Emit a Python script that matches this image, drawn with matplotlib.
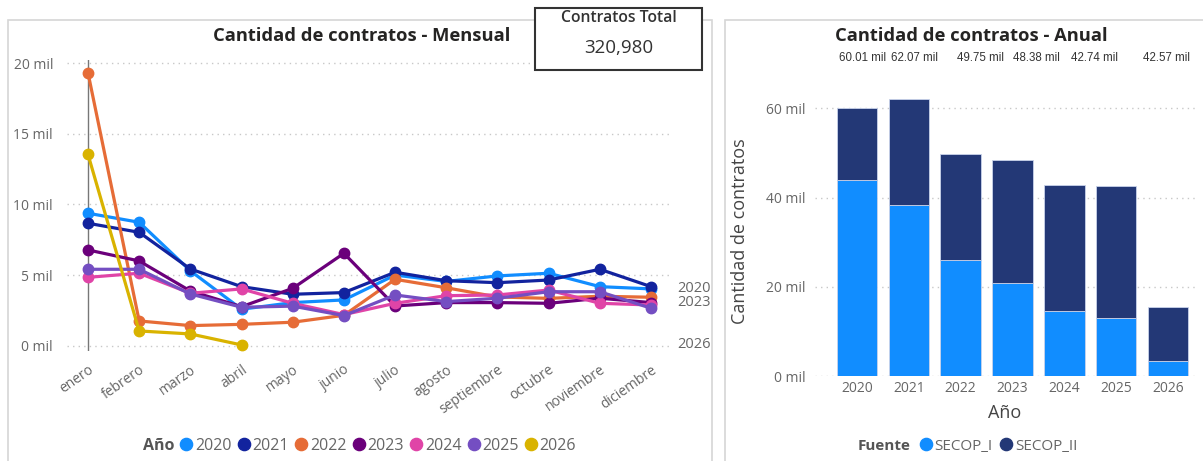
import matplotlib
matplotlib.use("Agg")
import matplotlib.pyplot as plt
import matplotlib.transforms as mtransforms
from matplotlib.patches import Rectangle
from matplotlib.lines import Line2D

plt.rcParams['font.family'] = ['Open Sans', 'DejaVu Sans']

# Monthly contracts (thousands) per year
meses = ['enero', 'febrero', 'marzo', 'abril', 'mayo', 'junio', 'julio',
         'agosto', 'septiembre', 'octubre', 'noviembre', 'diciembre']
m2020 = [9.38, 8.74, 5.30, 2.58, 3.05, 3.24, 5.00, 4.55, 4.94, 5.13, 4.18, 4.02]
m2021 = [8.67, 8.03, 5.43, 4.18, 3.64, 3.76, 5.20, 4.60, 4.46, 4.65, 5.41, 4.18]
m2022 = [19.33, 1.75, 1.42, 1.51, 1.66, 2.15, 4.70, 4.10, 3.45, 3.35, 3.50, 3.43]
m2023 = [6.78, 6.00, 3.87, 2.76, 4.06, 6.54, 2.81, 3.05, 3.05, 3.00, 3.36, 3.05]
m2024 = [4.84, 5.13, 3.71, 4.02, 3.00, 2.20, 3.00, 3.54, 3.59, 3.94, 3.00, 2.88]
m2025 = [5.41, 5.41, 3.66, 2.72, 2.80, 2.13, 3.59, 3.12, 3.36, 3.82, 3.82, 2.65]
m2026 = [13.55, 1.04, 0.83, 0.05]
series = {'2020': m2020, '2021': m2021, '2022': m2022, '2023': m2023,
          '2024': m2024, '2025': m2025, '2026': m2026}
colores = {'2020': '#118DFF', '2021': '#12239E', '2022': '#E66C37', '2023': '#6B007B',
           '2024': '#E044A7', '2025': '#744EC2', '2026': '#D9B300'}
etiquetas_fin = ['2020', '2023', '2026']

# Annual contracts (thousands) per source
anios = ['2020', '2021', '2022', '2023', '2024', '2025', '2026']
secop_i = [44.0, 38.3, 26.0, 20.9, 14.6, 13.0, 3.3]
secop_ii = [16.01, 23.77, 23.75, 27.48, 28.14, 29.57, 12.16]
totales = ['60.01 mil', '62.07 mil', '49.75 mil', '48.38 mil', '42.74 mil', '42.57 mil']
# Power BI drifts the total labels to the right, in pixels
desplaz_total = [6, 6, 20, 24, 30, 50]

W, H = 1203, 461
fig = plt.figure(figsize=(W / 100, H / 100), dpi=100)

def fx(px):
    return px / W

def fy(py):
    return 1 - py / H

# panel frames
fig.patches.append(Rectangle((fx(8), fy(470)), fx(704), fy(20) - fy(470), transform=fig.transFigure,
                             fill=False, edgecolor='#D6D6D6', lw=1.2, zorder=0))
fig.patches.append(Rectangle((fx(725), fy(470)), fx(490), fy(20) - fy(470), transform=fig.transFigure,
                             fill=False, edgecolor='#D6D6D6', lw=1.2, zorder=0))

gris = '#666666'

# ---- monthly line chart ----
ax = fig.add_axes([fx(67), fy(351.3), fx(603), (351.3 - 60.5) / H])
x = list(range(len(meses)))
for anio, vals in series.items():
    ax.plot(x[:len(vals)], vals, color=colores[anio], lw=2.3, marker='o', markersize=7.5,
            solid_joinstyle='round', zorder=3)
for anio in etiquetas_fin:
    vals = series[anio]
    ax.annotate(anio, (11, vals[-1]), xytext=(26, 0), textcoords='offset pixels',
                ha='left', va='center', fontsize=10.5, color=gris, annotation_clip=False)
ax.axvline(0, color='#777777', lw=1, zorder=2)
ax.set_xlim(-0.41, 11.37)
ax.set_ylim(-0.4, 20.2)
ax.set_yticks([0, 5, 10, 15, 20])
ax.set_yticklabels([f'{v} mil' for v in [0, 5, 10, 15, 20]])
ax.set_xticks(x)
ax.set_xticklabels(meses, rotation=35, ha='right', rotation_mode='anchor')
ax.tick_params(length=0, labelsize=10, labelcolor=gris)
ax.tick_params(axis='x', pad=8)
ax.tick_params(axis='y', pad=10)
ax.grid(axis='y', linestyle=(0, (1, 3)), color='#C8C8C8', lw=1)
for s in ax.spines.values():
    s.set_visible(False)

fig.text(fx(362), fy(36), 'Cantidad de contratos - Mensual', ha='center', va='center',
         fontsize=13.2, fontweight='bold', color='#252423')

fig.text(fx(143), fy(446), 'Año', ha='left', va='center', fontsize=11.5, fontweight='bold', color='#555555')
handles = [Line2D([], [], linestyle='none', marker='o', markersize=8.8, color=colores[a]) for a in series]
leg = fig.legend(handles, list(series.keys()), loc='center left', bbox_to_anchor=(fx(180), fy(446)),
                 ncol=7, frameon=False, fontsize=11.5, handletextpad=0.15, columnspacing=0.36,
                 handlelength=0.8, borderaxespad=0, borderpad=0)
for t in leg.get_texts():
    t.set_color(gris)

# total card
fig.patches.append(Rectangle((fx(535), fy(70)), fx(167), fy(8) - fy(70), transform=fig.transFigure,
                             facecolor='white', edgecolor='#333333', lw=1.5, zorder=5))
fig.text(fx(619), fy(18), 'Contratos Total', ha='center', va='center', fontsize=11.3,
         fontweight='semibold', color='#333333', zorder=6)
fig.text(fx(619), fy(48), '320,980', ha='center', va='center', fontsize=13.5,
         color='#333333', zorder=6)

# ---- annual stacked bar chart ----
bx = fig.add_axes([fx(815), fy(376), fx(380), (376 - 86) / H])
xb = list(range(len(anios)))
bx.bar(xb, secop_i, width=0.78, color='#118DFF', edgecolor='#C9D3EA', lw=0.6, zorder=3)
bx.bar(xb, secop_ii, width=0.78, bottom=secop_i, color='#233876', edgecolor='#C9D3EA', lw=0.6, zorder=3)
trans = mtransforms.blended_transform_factory(bx.transData, bx.transAxes)
for i, t in enumerate(totales):
    bx.annotate(t, (xb[i], 1.097), xycoords=trans, xytext=(desplaz_total[i], 0),
                textcoords='offset pixels', ha='center', va='center', fontsize=8.3,
                color='#333333', family='Liberation Sans', annotation_clip=False)
bx.set_xlim(-0.81, 6.52)
bx.set_ylim(0, 65)
bx.set_yticks([0, 20, 40, 60])
bx.set_yticklabels([f'{v} mil' for v in [0, 20, 40, 60]])
bx.set_xticks(xb)
bx.set_xticklabels(anios)
bx.tick_params(length=0, labelsize=10, labelcolor=gris)
bx.tick_params(axis='y', pad=7)
bx.grid(axis='y', linestyle=(0, (1, 3)), color='#C8C8C8', lw=1)
bx.set_axisbelow(True)
for s in bx.spines.values():
    s.set_visible(False)
bx.set_xlabel('Año', fontsize=13, color='#444444', labelpad=6)
bx.set_ylabel('Cantidad de contratos', fontsize=13, color='#444444', labelpad=12)

fig.text(fx(971), fy(36), 'Cantidad de contratos - Anual', ha='center', va='center',
         fontsize=13.2, fontweight='bold', color='#252423')

fig.text(fx(858), fy(446), 'Fuente', ha='left', va='center', fontsize=11, fontweight='bold', color='#555555')
h2 = [Line2D([], [], linestyle='none', marker='o', markersize=8.8, color=c) for c in ['#118DFF', '#233876']]
leg2 = fig.legend(h2, ['SECOP_I', 'SECOP_II'], loc='center left', bbox_to_anchor=(fx(920), fy(446)),
                  ncol=2, frameon=False, fontsize=11, handletextpad=0.15, columnspacing=0.5,
                  handlelength=0.8, borderaxespad=0, borderpad=0)
for t in leg2.get_texts():
    t.set_color(gris)

fig.savefig('out.png', dpi=100)
